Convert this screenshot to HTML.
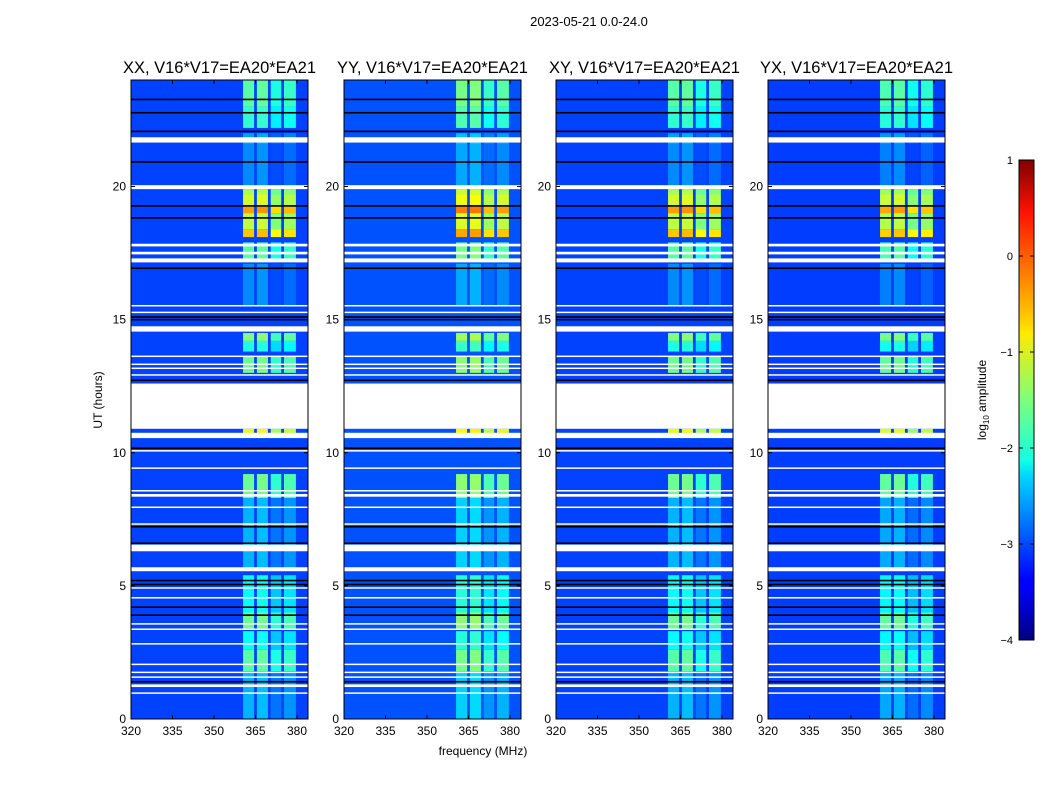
<!DOCTYPE html>
<html><head><meta charset="utf-8"><style>
body{margin:0;background:#fff;width:1050px;height:800px;overflow:hidden}
svg text{font-family:"Liberation Sans",sans-serif;fill:#000}
</style></head><body>
<svg id="fig" width="1050" height="800">
<text x="589" y="26" font-size="13" text-anchor="middle">2023-05-21 0.0-24.0</text>
<text transform="translate(102,400) rotate(-90)" font-size="12" text-anchor="middle">UT (hours)</text>
<text x="483" y="755" font-size="12" text-anchor="middle">frequency (MHz)</text>
<defs><linearGradient id="jet" x1="0" y1="1" x2="0" y2="0">
<stop offset="0" stop-color="#00007f"/><stop offset="0.11" stop-color="#0000ff"/><stop offset="0.125" stop-color="#0000ff"/>
<stop offset="0.34" stop-color="#00d4ff"/><stop offset="0.375" stop-color="#14ffe2"/><stop offset="0.5" stop-color="#7dff7a"/>
<stop offset="0.64" stop-color="#ffea00"/><stop offset="0.66" stop-color="#ffd400"/><stop offset="0.89" stop-color="#ff1300"/><stop offset="1" stop-color="#7f0000"/>
</linearGradient></defs>
<g id="panels"></g>
<g id="cbar"></g>
</svg>
<script>
const panelTitles=["XX, V16*V17=EA20*EA21","YY, V16*V17=EA20*EA21","XY, V16*V17=EA20*EA21","YX, V16*V17=EA20*EA21"];
const panelBoost=[0,0.15,0,-0.05];
const xTicks=[320,335,350,365,380];
const yTicks=[0,5,10,15,20];
const bgLevel=-3.05;
const bandLo=[360.5,365.5,370.5,375.3];
const bandHi=[364.5,369.5,374.3,379.6];
const bandOffset=[0,0.05,-0.3,-0.15];
const rfiStart=[23.0,22.2,21.0,20.05,19.7,19.3,19.0,18.4,18.1,17.2,15.5,14.2,13.8,13.0,10.6,8.3,5.6,4.0,3.4,2.6,1.8,0];
const rfiEnd  =[24.0,23.0,22.0,21.6,19.9,19.7,19.3,19.0,18.4,17.9,17.1,14.5,14.2,13.6,10.9,9.2,8.3,5.4,4.0,3.3,2.6,1.8];
const rfiLevel=[-1.7,-1.9,-2.6,-2.7,-1.3,-1.1,-0.4,-1.2,-0.6,-1.7,-2.7,-1.5,-2.0,-1.6,-1.0,-1.6,-2.5,-2.1,-1.6,-2.1,-1.7,-2.5];
const whiteStart=[21.65,19.9,17.75,17.45,17.15,15.5,15.25,14.55,13.6,13.3,13.15,12.9,10.9,10.55,10.05,9.4,8.55,8.35,7.95,7.3,6.3,5.55,4.9,4.55,3.55,3.35,2.8,2.05,1.75,1.55,1.2,0.95];
const whiteEnd  =[21.85,20.05,17.85,17.55,17.3,15.55,15.3,14.75,13.65,13.35,13.2,12.95,12.6,10.75,10.1,9.45,8.6,8.45,7.98,7.35,6.55,5.7,4.95,4.58,3.6,3.4,2.85,2.08,1.78,1.6,1.3,1.0];
const blackH=[23.27,22.77,22.07,20.92,19.27,18.82,16.93,15.1,15.0,12.72,10.97,10.17,7.22,6.6,5.2,5.05,4.2,3.9,1.4];
const cbTicks=[1,0,-1,-2,-3,-4];

const NS="http://www.w3.org/2000/svg";
function el(t,a,p){const e=document.createElementNS(NS,t);for(const k in a)e.setAttribute(k,a[k]);p.appendChild(e);return e;}
function jet(v){let t=Math.max(0,Math.min(1,(v+4)/5));
 const r=Math.max(0,Math.min(1,1.5-Math.abs(4*t-3))),g=Math.max(0,Math.min(1,1.5-Math.abs(4*t-2))),b=Math.max(0,Math.min(1,1.5-Math.abs(4*t-1)));
 return `rgb(${Math.round(r*255)},${Math.round(g*255)},${Math.round(b*255)})`;}
const X0=[131,344,556,768],W=177,Y0=80,Y1=719;
const px=(i,f)=>X0[i]+(f-320)*(166/60);
const py=h=>Y1-(h/24)*(Y1-Y0);
const root=document.getElementById('panels');
for(let i=0;i<4;i++){
 const g=el('g',{},root);
 
 
 const bg=el('rect',{x:X0[i],y:Y0,width:W,height:Y1-Y0,fill:jet(bgLevel+panelBoost[i]*0.5)},g);
 
 
 for(let s=0;s<rfiStart.length;s++)for(let b=0;b<bandLo.length;b++){
  const r=el('rect',{x:px(i,bandLo[b]),y:py(rfiEnd[s]),width:px(i,bandHi[b])-px(i,bandLo[b]),height:py(rfiStart[s])-py(rfiEnd[s]),fill:jet(rfiLevel[s]+bandOffset[b]+panelBoost[i])},g);
  
  
 }
 for(let k=0;k<blackH.length;k++){
  const r=el('rect',{x:X0[i],y:py(blackH[k])-0.8,width:W,height:1.6,fill:'#000'},g);
  
  
 }
 for(let k=0;k<whiteStart.length;k++){
  const r=el('rect',{x:X0[i],y:py(whiteEnd[k]),width:W,height:Math.max(1.5,py(whiteStart[k])-py(whiteEnd[k])),fill:'#fff'},g);
  
  
 }
 const fr=el('rect',{x:X0[i],y:Y0,width:W,height:Y1-Y0,fill:'none',stroke:'#000','stroke-width':1},g);
 
 
 const tt=el('text',{x:X0[i]+W/2,y:73,'font-size':16.5,'text-anchor':'middle'},g);tt.textContent=panelTitles[i];
 
 
 xTicks.forEach(f=>{const x=px(i,f);
  el('line',{x1:x,x2:x,y1:Y1,y2:Y1-4,stroke:'#000'},g);el('line',{x1:x,x2:x,y1:Y0,y2:Y0+4,stroke:'#000'},g);
  const t=el('text',{x:x,y:Y1+16,'font-size':12,'text-anchor':'middle'},g);t.textContent=f;
  
  });
 yTicks.forEach(h=>{const y=py(h);
  el('line',{x1:X0[i],x2:X0[i]+4,y1:y,y2:y,stroke:'#000'},g);el('line',{x1:X0[i]+W,x2:X0[i]+W-4,y1:y,y2:y,stroke:'#000'},g);
  const t=el('text',{x:X0[i]-5,y:y+4,'font-size':12,'text-anchor':'end'},g);t.textContent=h;
  
  });
}
const cb=document.getElementById('cbar');
el('rect',{x:1019,y:160,width:15,height:480,fill:'url(#jet)',stroke:'#000','stroke-width':1},cb);
cbTicks.forEach(v=>{const y=160+(1-v)*96;
 el('line',{x1:1019,x2:1023,y1:y,y2:y,stroke:'#000'},cb);el('line',{x1:1034,x2:1030,y1:y,y2:y,stroke:'#000'},cb);
 const t=el('text',{x:1013,y:y+4,'font-size':11,'text-anchor':'end'},cb);t.textContent=v<0?'\u2212'+(-v):v;
 
 });
const cl=el('text',{transform:'translate(986,400) rotate(-90)','font-size':12,'text-anchor':'middle'},cb);
cl.innerHTML='log<tspan font-size="8" dy="3">10</tspan><tspan dy="-3"> amplitude</tspan>';


</script>
</body></html>
